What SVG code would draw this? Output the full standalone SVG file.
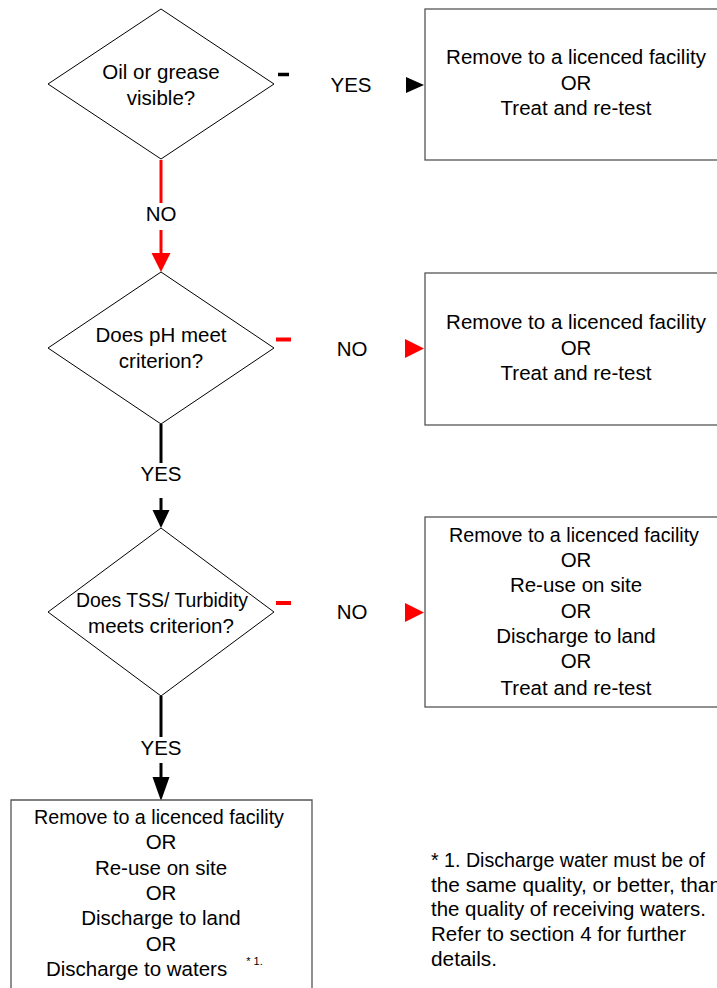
<svg xmlns="http://www.w3.org/2000/svg" width="717" height="988" viewBox="0 0 717 988">
<style>
text{font-family:"Liberation Sans",Arial,sans-serif;font-size:20.5px;fill:#000}
.c{text-anchor:middle}
.n{font-size:19.5px}
.d{fill:#fff;stroke:#000;stroke-width:1}
.b{fill:#fff;stroke:#555;stroke-width:1.3}
.lr{stroke:#f00;stroke-width:3;fill:none}
.lk{stroke:#000;stroke-width:3;fill:none}
</style>
<rect width="717" height="988" fill="#fff"/>
<g id="connectors">
  <line class="lr" x1="161" y1="160" x2="161" y2="203"/>
  <line class="lr" x1="161" y1="230" x2="161" y2="256"/>
  <polygon points="151.5,253 170.5,253 161,272" fill="#f00"/>
  <text class="c" x="161" y="221">NO</text>
  <line class="lk" x1="161" y1="424" x2="161" y2="463"/>
  <line class="lk" x1="161" y1="498" x2="161" y2="512"/>
  <polygon points="152.5,510 169.5,510 161,528" fill="#000"/>
  <text class="c" x="161" y="481">YES</text>
  <line class="lk" x1="161" y1="696" x2="161" y2="737"/>
  <line class="lk" x1="161" y1="763" x2="161" y2="780"/>
  <polygon points="152.5,777 169.5,777 161,801" fill="#000"/>
  <text class="c" x="161" y="755">YES</text>
  <line x1="278" y1="74.5" x2="289" y2="74.5" stroke="#000" stroke-width="3.5"/>
  <text class="c" x="351" y="92">YES</text>
  <polygon points="406,77 424,85 406,93" fill="#000"/>
  <line x1="276" y1="339.5" x2="291" y2="339.5" stroke="#f00" stroke-width="4"/>
  <text class="c" x="352" y="356">NO</text>
  <polygon points="405,339 424,348.5 405,358" fill="#f00"/>
  <line x1="276" y1="603" x2="291" y2="603" stroke="#f00" stroke-width="4"/>
  <text class="c" x="352" y="619">NO</text>
  <polygon points="405,603 424,612.5 405,622" fill="#f00"/>
</g>
<g id="d1">
  <polygon class="d" points="161,9 274,84 161,159 48,84"/>
  <text class="c" x="161" y="79">Oil or grease</text>
  <text class="c" x="161" y="105">visible?</text>
</g>
<g id="d2">
  <polygon class="d" points="161,272 274,348 161,424 48,348"/>
  <text class="c" x="161" y="342">Does pH meet</text>
  <text class="c" x="161" y="368">criterion?</text>
</g>
<g id="d3">
  <polygon class="d" points="161,528 274,612 161,696 48,612"/>
  <text class="c" x="162" y="607" textLength="172" lengthAdjust="spacingAndGlyphs">Does TSS/ Turbidity</text>
  <text class="c" x="161" y="633">meets criterion?</text>
</g>
<g id="b1">
  <rect class="b" x="425" y="9" width="302" height="151"/>
  <text class="c" x="576" y="64">Remove to a licenced facility</text>
  <text class="c" x="576" y="90">OR</text>
  <text class="c" x="576" y="115">Treat and re-test</text>
</g>
<g id="b2">
  <rect class="b" x="425" y="273" width="302" height="152"/>
  <text class="c" x="576" y="329">Remove to a licenced facility</text>
  <text class="c" x="576" y="355">OR</text>
  <text class="c" x="576" y="380">Treat and re-test</text>
</g>
<g id="b3">
  <rect class="b" x="425" y="517" width="302" height="190"/>
  <text class="c" x="574" y="542" textLength="250" lengthAdjust="spacingAndGlyphs">Remove to a licenced facility</text>
  <text class="c" x="576" y="567">OR</text>
  <text class="c" x="576" y="592">Re-use on site</text>
  <text class="c" x="576" y="618">OR</text>
  <text class="c" x="576" y="643">Discharge to land</text>
  <text class="c" x="576" y="668">OR</text>
  <text class="c" x="576" y="695">Treat and re-test</text>
</g>
<g id="b4">
  <path class="b" d="M11,990 V800 H312 V990"/>
  <text class="c" x="159" y="824" textLength="250" lengthAdjust="spacingAndGlyphs">Remove to a licenced facility</text>
  <text class="c" x="161" y="849">OR</text>
  <text class="c" x="161" y="875">Re-use on site</text>
  <text class="c" x="161" y="900">OR</text>
  <text class="c" x="161" y="925">Discharge to land</text>
  <text class="c" x="161" y="951">OR</text>
  <text x="46" y="976">Discharge to waters<tspan font-size="11" dx="19" dy="-11">* 1.</tspan></text>
</g>
<g id="note">
  <text class="n" x="431" y="867" textLength="274" lengthAdjust="spacingAndGlyphs">* 1. Discharge water must be of</text>
  <text class="n" x="431" y="892" textLength="290" lengthAdjust="spacingAndGlyphs">the same quality, or better, than</text>
  <text class="n" x="431" y="916" textLength="275" lengthAdjust="spacingAndGlyphs">the quality of receiving waters.</text>
  <text class="n" x="431" y="941" textLength="255" lengthAdjust="spacingAndGlyphs">Refer to section 4 for further</text>
  <text class="n" x="431" y="966" textLength="66" lengthAdjust="spacingAndGlyphs">details.</text>
</g>
</svg>
